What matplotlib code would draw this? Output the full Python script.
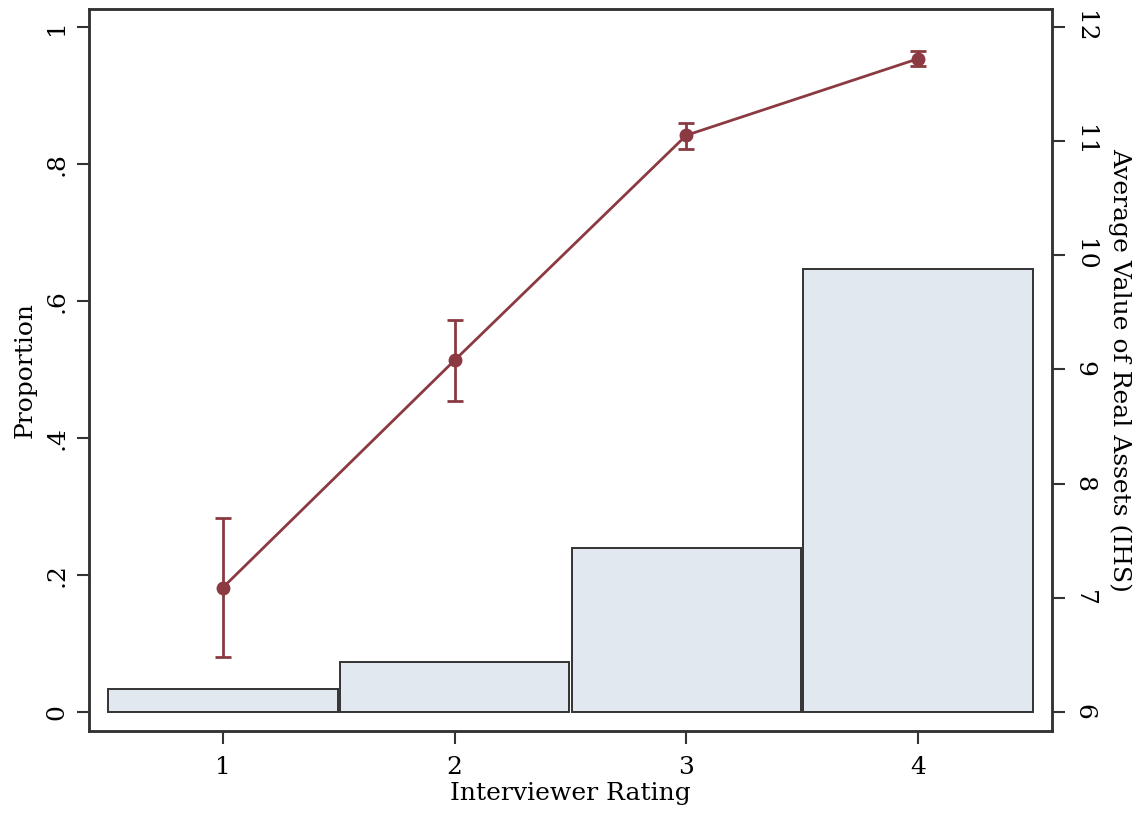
import matplotlib
matplotlib.use("Agg")
import matplotlib.pyplot as plt

plt.rcParams['font.family'] = ['DejaVu Serif']

ratings = [1, 2, 3, 4]
proportion = [0.034, 0.073, 0.240, 0.647]
assets_mean = [7.09, 9.08, 11.05, 11.72]
assets_lo = [6.48, 8.72, 10.93, 11.66]
assets_hi = [7.70, 9.43, 11.16, 11.79]

left_ticks = [0, 0.2, 0.4, 0.6, 0.8, 1.0]
left_ticklabels = ['0', '.2', '.4', '.6', '.8', '1']
right_ticks = [6, 7, 8, 9, 10, 11, 12]

fig = plt.figure(figsize=(11.38, 8.15), dpi=100)
ax = fig.add_axes([0.0782, 0.1031, 0.8462, 0.8859])

ax.bar(ratings, proportion, width=0.99, color='#e1e8ef', edgecolor='#333333', linewidth=1.4, zorder=2)
ax.set_xlim(0.422, 4.578)
ax.set_ylim(-0.0277, 1.026)
ax.set_xticks(ratings)
ax.set_xticklabels([str(r) for r in ratings])
ax.set_yticks(left_ticks)
ax.set_yticklabels(left_ticklabels, rotation=90, va='center')
ax.set_xlabel('Interviewer Rating', fontsize=18, labelpad=2)
ax.set_ylabel('Proportion', fontsize=18, labelpad=6)
ax.tick_params(axis='x', labelsize=18, length=9, width=1.5, color='#333333', pad=9)
ax.tick_params(axis='y', labelsize=18, length=9, width=1.5, color='#333333', pad=6)

ax2 = ax.twinx()
ax2.set_ylim(6 - 0.0277 * 6, 12 + 0.026 * 6)
lo_err = [m - l for m, l in zip(assets_mean, assets_lo)]
hi_err = [h - m for m, h in zip(assets_mean, assets_hi)]
ax2.errorbar(ratings, assets_mean, yerr=[lo_err, hi_err], color='#8b3a42', linewidth=2,
             marker='o', markersize=9, capsize=5.5, capthick=2, elinewidth=2, zorder=3)
ax2.set_yticks(right_ticks)
ax2.set_yticklabels([str(t) for t in right_ticks], rotation=270, va='center')
ax2.set_ylabel('Average Value of Real Assets (IHS)', fontsize=18, rotation=270, labelpad=26)
ax2.tick_params(axis='y', labelsize=18, length=9, width=1.5, color='#333333', pad=6)

for a in (ax, ax2):
    for s in a.spines.values():
        s.set_linewidth(1.8)
        s.set_color('#333333')

fig.savefig('out.png', dpi=100)
